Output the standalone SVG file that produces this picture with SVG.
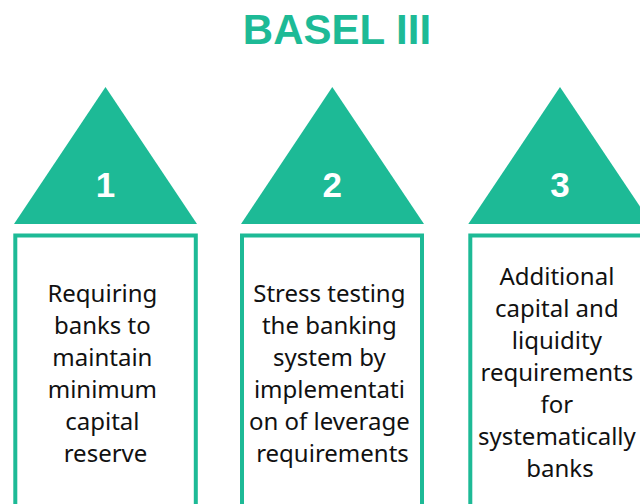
<svg xmlns="http://www.w3.org/2000/svg" width="640" height="504" viewBox="0 0 640 504">
  <style>
    .title { font-family: "Liberation Sans", Arial, sans-serif; font-weight: bold; font-size: 42px; fill: #1dba96; }
    .tri { fill: #1dba96; }
    .num { font-family: "Liberation Sans", Arial, sans-serif; font-weight: bold; font-size: 35px; fill: #ffffff; }
    .box { fill: #ffffff; stroke: #1dba96; stroke-width: 4; }
    .txt { font-family: "Noto Sans", "Liberation Sans", sans-serif; font-size: 24px; fill: #111111; }
  </style>
  <rect width="640" height="504" fill="#ffffff"/>
  <text class="title" x="337" y="43.5" text-anchor="middle">BASEL III</text>

  <g id="step1">
    <polygon class="tri" points="105.5,87 14,224 197,224"/>
    <text class="num" x="105.5" y="197" text-anchor="middle">1</text>
    <rect class="box" x="15.3" y="235.5" width="180.5" height="300"/>
    <text class="txt" text-anchor="middle">
      <tspan x="105.5" y="302">Requiring</tspan>
      <tspan x="105.5" y="334">banks to</tspan>
      <tspan x="105.5" y="366">maintain</tspan>
      <tspan x="105.5" y="398">minimum</tspan>
      <tspan x="105.5" y="430">capital</tspan>
      <tspan x="105.5" y="462">reserve</tspan>
    </text>
  </g>

  <g id="step2">
    <polygon class="tri" points="332.3,87 241,224 424,224"/>
    <text class="num" x="332.3" y="197" text-anchor="middle">2</text>
    <rect class="box" x="242" y="235.5" width="180" height="300"/>
    <text class="txt" text-anchor="middle">
      <tspan x="332.5" y="302">Stress testing</tspan>
      <tspan x="332.5" y="334">the banking</tspan>
      <tspan x="332.5" y="366">system by</tspan>
      <tspan x="332.5" y="398">implementati</tspan>
      <tspan x="332.5" y="430">on of leverage</tspan>
      <tspan x="332.5" y="462">requirements</tspan>
    </text>
  </g>

  <g id="step3">
    <polygon class="tri" points="560,87 468.3,224 651.7,224"/>
    <text class="num" x="560" y="197" text-anchor="middle">3</text>
    <rect class="box" x="470.3" y="235.5" width="181" height="300"/>
    <text class="txt" text-anchor="middle">
      <tspan x="560" y="285">Additional</tspan>
      <tspan x="560" y="317">capital and</tspan>
      <tspan x="560" y="349">liquidity</tspan>
      <tspan x="560" y="381">requirements</tspan>
      <tspan x="560" y="413">for</tspan>
      <tspan x="560" y="445">systematically</tspan>
      <tspan x="560" y="477">banks</tspan>
    </text>
  </g>
</svg>
